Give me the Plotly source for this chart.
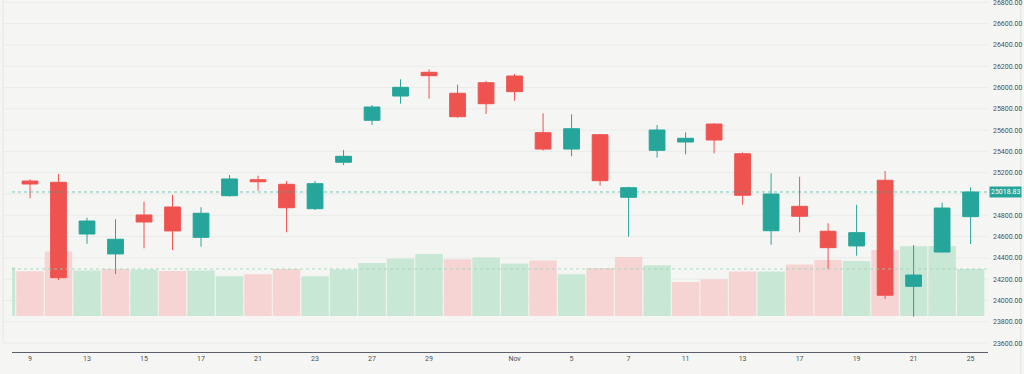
import plotly.graph_objects as go

# ---- data ----
dates = ["2025-10-08", "2025-10-09", "2025-10-10", "2025-10-13", "2025-10-14", "2025-10-15",
         "2025-10-16", "2025-10-17", "2025-10-20", "2025-10-21", "2025-10-22", "2025-10-23",
         "2025-10-24", "2025-10-27", "2025-10-28", "2025-10-29", "2025-10-30", "2025-10-31",
         "2025-11-03", "2025-11-04", "2025-11-05", "2025-11-06", "2025-11-07", "2025-11-10",
         "2025-11-11", "2025-11-12", "2025-11-13", "2025-11-14", "2025-11-17", "2025-11-18",
         "2025-11-19", "2025-11-20", "2025-11-21", "2025-11-24", "2025-11-25"]
opens = [24878, 25122, 25110, 24624, 24437, 24803, 24878, 24593, 24984, 25134, 25091, 24862,
         25298, 25692, 25920, 26143, 25946, 26045, 26108, 25576, 25422, 25557, 24969, 25410,
         25488, 25657, 25378, 24655, 24884, 24650, 24512, 25129, 24133, 24455, 24787]
highs = [25180, 25138, 25188, 24777, 24762, 24928, 24991, 24875, 25178, 25172, 25122, 25122,
         25413, 25836, 26077, 26171, 26026, 26061, 26127, 25758, 25748, 25565, 25068, 25648,
         25579, 25665, 25391, 25194, 25162, 24725, 24899, 25216, 24521, 24918, 25063]
lows = [24850, 24960, 24192, 24533, 24249, 24490, 24474, 24505, 24975, 25031, 24640, 24850,
        25272, 25648, 25848, 25895, 25716, 25751, 25876, 25407, 25354, 25078, 24599, 25341,
        25373, 25382, 24899, 24524, 24640, 24293, 24421, 24014, 23848, 24449, 24530]
closes = [25131, 25094, 24214, 24746, 24575, 24737, 24653, 24819, 25141, 25115, 24871, 25097,
          25354, 25817, 26002, 26111, 25726, 25848, 25961, 25422, 25613, 25125, 25059, 25601,
          25523, 25507, 24988, 25000, 24791, 24496, 24637, 24049, 24239, 24868, 25018.83]
volumes = [244, 224, 322, 227, 235, 232, 225, 227, 199, 209, 235, 199,
           232, 265, 287, 310, 284, 292, 262, 277, 209, 240, 295, 254,
           170, 184, 222, 222, 257, 280, 275, 330, 349, 350, 235]

tick_dates = ["2025-10-09", "2025-10-13", "2025-10-15", "2025-10-17", "2025-10-21", "2025-10-23",
              "2025-10-27", "2025-10-29", "2025-11-03", "2025-11-05", "2025-11-07", "2025-11-11",
              "2025-11-13", "2025-11-17", "2025-11-19", "2025-11-21", "2025-11-25"]
tick_labels = ["9", "13", "15", "17", "21", "23", "27", "29", "Nov", "5", "7", "11",
               "13", "17", "19", "21", "25"]
price_ticks = [23600, 23800, 24000, 24200, 24400, 24600, 24800, 25000, 25200, 25400,
               25600, 25800, 26000, 26200, 26400, 26600, 26800]
price_labels = ["23600.00", "23800.00", "24000.00", "24200.00", "24400.00", "24600.00",
                "24800.00", "", "25200.00", "25400.00", "25600.00", "25800.00",
                "26000.00", "26200.00", "26400.00", "26600.00", "26800.00"]

# ---- styles ----
UP = "#26a69a"
DOWN = "#ef5350"
VOL_UP = "#c9e7d5"
VOL_DOWN = "#f6d4d3"
BG = "#f5f6f4"
GRID = "#eaece9"
TXT = "#4f4f4f"
FONT = "Roboto"

vol_colors = []
for i, c in enumerate(closes):
    prev = closes[i - 1] if i > 0 else opens[0]
    vol_colors.append(VOL_UP if c >= prev else VOL_DOWN)

fig = go.Figure()

fig.add_trace(go.Bar(
    x=dates, y=volumes, marker=dict(color=vol_colors, line=dict(width=0)),
    yaxis="y", xaxis="x", hoverinfo="skip", showlegend=False,
))

fig.add_trace(go.Candlestick(
    x=dates, open=opens, high=highs, low=lows, close=closes,
    increasing=dict(fillcolor=UP, line=dict(color=UP, width=1)),
    decreasing=dict(fillcolor=DOWN, line=dict(color=DOWN, width=1)),
    whiskerwidth=0, yaxis="y2", xaxis="x", showlegend=False,
))

shapes = []
for p in price_ticks:
    shapes.append(dict(type="line", xref="paper", x0=-0.0092, x1=1, yref="y2", y0=p, y1=p,
                       line=dict(color=GRID, width=1), layer="below"))
# left container edge
shapes.append(dict(type="line", xref="paper", x0=-0.0092, x1=-0.0092, yref="paper", y0=0.03, y1=1,
                   line=dict(color="#e6e8e5", width=1), layer="below"))
# right container edge
shapes.append(dict(type="line", xref="paper", x0=1.0336, x1=1.0336, yref="paper", y0=-0.0625, y1=1,
                   line=dict(color="#e2e4e1", width=1), layer="below"))
# last price line
shapes.append(dict(type="line", xref="paper", x0=0, x1=1, yref="y2",
                   y0=closes[-1], y1=closes[-1],
                   line=dict(color=UP, width=1, dash="dot"), opacity=0.6))
# last volume line
shapes.append(dict(type="line", xref="paper", x0=0, x1=1, yref="y",
                   y0=volumes[-1], y1=volumes[-1],
                   line=dict(color="#9fd3b8", width=1, dash="dot"), opacity=0.8))

fig.update_layout(
    width=1024, height=374,
    margin=dict(l=12, r=36, t=0, b=22),
    paper_bgcolor=BG, plot_bgcolor=BG,
    font=dict(family=FONT, size=7, color=TXT),
    bargap=0.035, boxgap=0.21,
    showlegend=False,
    shapes=shapes,
    xaxis=dict(
        type="category", categoryorder="array", categoryarray=dates,
        range=[0.368, 34.61],
        tickmode="array", tickvals=tick_dates, ticktext=tick_labels,
        showgrid=False, zeroline=False,
        showline=True, linecolor="#5a5d6c", linewidth=1,
        ticks="", tickfont=dict(size=7, color=TXT, family=FONT),
        rangeslider=dict(visible=False), fixedrange=True,
    ),
    yaxis=dict(
        range=[-180, 1580], visible=False, showgrid=False, zeroline=False, fixedrange=True,
    ),
    yaxis2=dict(
        overlaying="y", side="right", range=[23516, 26822],
        tickmode="array", tickvals=price_ticks, ticktext=price_labels,
        showgrid=False, zeroline=False, showline=False, ticks="",
        tickfont=dict(size=7, color=TXT, family=FONT),
        ticklabelstandoff=4, ticklabeloverflow="allow", fixedrange=True,
    ),
    annotations=[dict(
        xref="paper", x=1.0, yref="y2", y=closes[-1], xanchor="left", yanchor="middle",
        text=f"{closes[-1]:.2f}", showarrow=False, bgcolor=UP, borderpad=1,
        font=dict(color="white", size=7, family=FONT), xshift=1,
    )],
)

fig.write_html(
    "out.html",
    config={"displayModeBar": False, "staticPlot": True},
    post_script="document.body.style.margin='0';document.body.style.background='%s';" % BG,
)
